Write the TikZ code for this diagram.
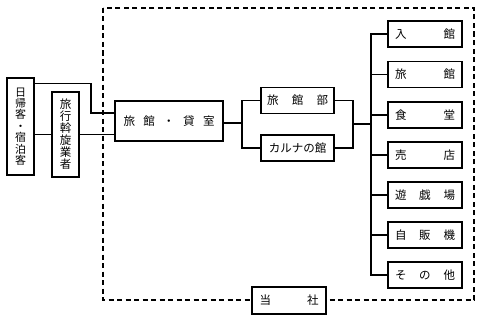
\documentclass[tikz,border=0pt]{standalone}
\usepackage{fontspec}
\newfontfamily\jp{Noto Sans CJK JP}
\usetikzlibrary{positioning}
\newcommand{\spr}[2]{\makebox[#1][s]{#2}}
\tikzset{
  box/.style={rectangle,draw=black,line width=1.3pt,fill=white,inner sep=0pt,
    font=\jp\fontsize{11.5}{12}\selectfont,minimum height=26pt},
  unit/.style={box,minimum width=74pt},
  vbox/.style={box,minimum width=27pt,align=center},
  ln/.style={line width=1.1pt,draw=black}
}
\begin{document}
\begin{tikzpicture}[x=1pt,y=-1pt]
\useasboundingbox (0,0) rectangle (481,321);
\draw[line width=1.2pt,dash pattern=on 5pt off 3.5pt] (103,8) rectangle (474,300);
% left side
\node[vbox,minimum height=97pt,font=\jp\fontsize{11}{11.4}\selectfont] (guest) at (20.5,126.5) {日\\帰\\客\\・\\宿\\泊\\客};
\node[vbox,minimum height=85pt,font=\jp\fontsize{11.5}{12}\selectfont] (agent) at (65.5,134.5) {旅\\行\\斡\\旋\\業\\者};
\node[box,minimum width=108pt,minimum height=40pt] (main) at (169,121) {\spr{91pt}{旅\hfill 館\hfill ・\hfill 貸\hfill 室}};
% middle
\node[unit,minimum width=73pt] (bu) at (297.5,100.5) {\spr{61pt}{旅\hfill 館\hfill 部}};
\node[unit,minimum width=73pt] (ka) at (297.5,148) {カルナの館};
% right
\node[unit] (r1) at (425,34) {\spr{60pt}{入\hfill 館}};
\node[unit] (r2) at (425,74.5) {\spr{60pt}{旅\hfill 館}};
\node[unit] (r3) at (425,115) {\spr{60pt}{食\hfill 堂}};
\node[unit] (r4) at (425,155) {\spr{60pt}{売\hfill 店}};
\node[unit] (r5) at (425,195) {\spr{60pt}{遊\hfill 戯\hfill 場}};
\node[unit] (r6) at (425,235) {\spr{60pt}{自\hfill 販\hfill 機}};
\node[unit] (r7) at (425,275) {\spr{60pt}{そ\hfill の\hfill 他}};
\node[unit,minimum height=27pt] (co) at (289,300.5) {\spr{59pt}{当\hfill 社}};
% connectors
\coordinate (k1) at (91,113);
\coordinate (j1) at (242,123);
\coordinate (j2) at (353,124);
\coordinate (j3) at (371,124);
\draw[ln] ([yshift=-6pt]guest.north east) -| (k1) -- (k1 -| main.west);
\draw[ln] (guest.east |- agent) -- (agent.west);
\draw[ln] (agent.east) -- (agent.east -| main.west);
\draw[ln] (main.east |- j1) -- (j1);
\draw[ln] (bu.west) -| (j1) |- (ka.west);
\draw[ln] (bu.east) -| (j2) |- (ka.east);
\draw[ln] (j2) -- (j3);
\draw[ln] (r1.west) -| (j3) |- (r7.west);
\foreach \n in {r2,r3,r4,r5,r6} \draw[ln] (\n.west) -- (\n.west -| j3);
\end{tikzpicture}
\end{document}
